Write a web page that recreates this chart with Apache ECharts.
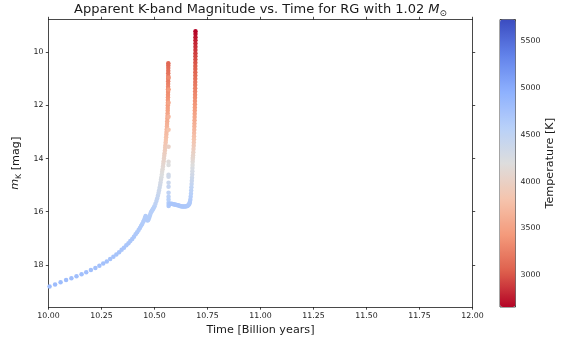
<!DOCTYPE html>
<html><head><meta charset="utf-8">
<script src="https://cdn.jsdelivr.net/npm/echarts@6/dist/echarts.min.js"></script>
<style>html,body{margin:0;padding:0;background:#fff}#c{width:562px;height:341px}</style>
</head><body><div id="c"></div>
<script>
// Red-giant track: time (Gyr), apparent K magnitude, effective temperature (K)
const rgbTimes = [10.005,10.031,10.057,10.083,10.108,10.132,10.156,10.178,10.200,10.221,10.240,10.258,10.275,10.291,10.306,10.320,10.333,10.345,10.356,10.367,10.377,10.386,10.395,10.403,10.411,10.418,10.425,10.431,10.437,10.442,10.447,10.451,10.455,10.458,
 10.461,10.464,10.467,10.470,10.473,10.476,10.479,10.482,10.485,10.488,10.491,10.494,10.497,10.500,
 10.5045,10.509,10.5125,10.516,10.519,10.5215,10.524,10.5265,10.5285,10.5305,10.5325,10.5345,10.536,10.538,10.540,10.5415,10.543,10.5447,10.546,10.5475,10.549,10.5502,10.5515,10.5527,10.5538,10.5548,10.5558,10.5567,10.5576,10.5585,10.5592,10.5600,10.5607,10.5614,10.5620,10.5623,10.5626,10.5628,10.5630,10.5632,10.5635,10.5637,10.5639,10.5640,10.5642,10.5643,10.5645,10.5646,10.5647,10.5648,10.5649,10.5650,10.5650,10.5651];
const rgbMags = [18.805,18.73,18.65,18.57,18.50,18.42,18.35,18.27,18.19,18.11,18.03,17.95,17.87,17.78,17.69,17.61,17.52,17.43,17.35,17.26,17.18,17.10,17.02,16.94,16.85,16.77,16.69,16.61,16.53,16.46,16.38,16.31,16.23,16.16,
 16.21,16.27,16.33,16.31,16.26,16.20,16.12,16.05,16.00,15.96,15.93,15.89,15.84,15.79,
 15.70,15.60,15.50,15.40,15.30,15.20,15.10,15.00,14.90,14.80,14.70,14.60,14.50,14.40,14.30,14.20,14.10,14.00,13.90,13.80,13.70,13.60,13.50,13.40,13.30,13.20,13.10,13.00,12.90,12.80,12.70,12.60,12.50,12.40,12.30,12.20,12.10,12.00,11.90,11.80,11.70,11.60,11.50,11.40,11.30,11.20,11.10,11.00,10.90,10.80,10.70,10.60,10.50,10.42];
const rgbTemps = [4820,4815,4809,4803,4797,4791,4786,4779,4773,4767,4761,4755,4749,4742,4735,4729,4722,4715,4709,4702,4695,4689,4683,4677,4670,4664,4658,4652,4645,4640,4634,4628,4622,4617,
 4620,4622,4625,4623,4618,4612,4605,4598,4592,4587,4583,4578,4572,4565,
 4516,4493,4470,4442,4414,4386,4358,4330,4300,4270,4240,4210,4180,4150,4120,4090,4060,4030,4000,3970,3940,3910,3880,3850,3820,3790,3760,3730,3701,3672,3643,3614,3585,3559,3533,3507,3481,3455,3432,3409,3386,3363,3340,3318,3296,3274,3252,3230,3208,3186,3164,3142,3120,3100];

const flashTimes = [10.5662,10.5662,10.5662,10.5662,10.5662,10.5662,10.5662,10.5662,10.5662,10.5662,10.5662,10.5662,10.5662,10.5662,10.5662,10.5662];
const flashMags = [10.96,11.41,11.90,12.43,12.92,13.56,14.12,14.24,14.61,14.69,14.91,15.06,15.29,15.44,15.55,15.67];
const flashTemps = [3320,3420,3530,3670,3810,4000,4170,4210,4320,4340,4400,4450,4510,4550,4580,4610];

const hbTimes = [10.5665,10.568,10.571,10.575,10.580,10.585,10.590,10.595,10.600,10.605,10.610,10.615,10.620,10.625,10.630,10.635,10.640,10.645,10.650,10.655,10.659,10.662,10.665,10.667,10.669];
const hbMags = [15.78,15.74,15.71,15.70,15.70,15.71,15.72,15.73,15.74,15.75,15.76,15.77,15.78,15.79,15.80,15.80,15.80,15.80,15.79,15.78,15.76,15.73,15.69,15.63,15.55];
const hbTemps = [4660,4680,4690,4700,4705,4705,4705,4705,4700,4700,4700,4695,4695,4690,4690,4690,4685,4685,4680,4680,4675,4670,4665,4655,4640];

const agbTimes = [10.6705,10.672,10.673,10.674,10.675,10.676,10.677,10.678,10.6785,10.679,10.6795,10.680,10.6805,10.681,10.682,10.683,10.684,10.685,10.6855,10.686,10.6865,10.687,10.6875,10.688,10.6884,10.6888,10.6892,10.6896,10.690,10.6903,10.6906,10.6909,10.6912,10.6914,10.6916,10.6918,10.6920,10.6921,10.6922,10.6923,10.6924,10.6925,10.6926,10.6927,10.6928,10.6929,10.6930,10.6930,10.6931,10.6931,10.6932,10.6932,10.6933,10.6933];
const agbMags = [15.44,15.32,15.20,15.08,14.96,14.84,14.72,14.60,14.48,14.36,14.24,14.12,14.02,13.96,13.88,13.76,13.64,13.52,13.40,13.28,13.16,13.04,12.92,12.80,12.68,12.56,12.44,12.32,12.20,12.08,11.96,11.84,11.72,11.60,11.48,11.36,11.24,11.12,11.00,10.88,10.76,10.64,10.52,10.40,10.28,10.16,10.04,9.92,9.80,9.68,9.56,9.44,9.32,9.22];
const agbTemps = [4620,4582,4544,4506,4466,4422,4379,4336,4292,4244,4196,4148,4108,4084,4052,4004,3956,3908,3864,3821,3778,3734,3694,3656,3618,3579,3543,3510,3476,3442,3410,3378,3347,3316,3285,3254,3222,3191,3160,3129,3098,3066,3035,3004,2973,2942,2910,2878,2844,2810,2777,2737,2697,2665];

const xTicks = [10, 10.25, 10.5, 10.75, 11, 11.25, 11.5, 11.75, 12];
const yTicks = [10, 12, 14, 16, 18];
const cbTicks = [3000, 3500, 4000, 4500, 5000, 5500];
const tempMin = 2660, tempMax = 5732;
// coolwarm reversed (low temperature = red)
const cmap = ['#b40426','#de604d','#f49a7b','#f5c4ad','#dddddd','#b8d0f9','#8db0fe','#6282ea','#3b4cc0'];

const times = rgbTimes.concat(flashTimes, hbTimes, agbTimes);
const mags = rgbMags.concat(flashMags, hbMags, agbMags);
const temps = rgbTemps.concat(flashTemps, hbTemps, agbTemps);
const pts = times.map((t, i) => [t, mags[i], temps[i]]);

const FONT = 'DejaVu Sans';
const TXT = '#1a1a1a';
const lineS = {color: '#1a1a1a', width: 0.8};

const chart = echarts.init(document.getElementById('c'), null, {renderer: 'canvas'});
chart.setOption({
  animation: false,
  backgroundColor: '#fff',
  title: {
    text: '{a|Apparent K-band Magnitude vs. Time for RG with 1.02 }{m|M}{s|⊙}',
    left: 260.5, top: 3, padding: 0, textAlign: 'center',
    textStyle: {
      fontWeight: 'normal',
      rich: {
        a: {fontFamily: FONT, fontSize: 13, fontWeight: 'normal', color: TXT, verticalAlign: 'top'},
        m: {fontFamily: FONT, fontSize: 13, fontWeight: 'normal', fontStyle: 'italic', color: TXT, verticalAlign: 'top'},
        s: {fontFamily: FONT, fontSize: 8.8, fontWeight: 'normal', color: TXT, verticalAlign: 'top', padding: [6, 0, 0, 0]}
      }
    }
  },
  grid: [
    {left: 48.5, top: 19.5, width: 424, height: 287.5},
    {left: 500, top: 19.5, width: 15.5, height: 287.5, show: true, borderColor: '#1a1a1a', borderWidth: 0.8, backgroundColor: 'transparent'}
  ],
  xAxis: [
    {gridIndex: 0, type: 'value', min: 10, max: 12, interval: 0.25, position: 'bottom',
     axisLine: {show: true, lineStyle: lineS}, axisTick: {show: true, length: 2.7, lineStyle: lineS},
     axisLabel: {fontFamily: FONT, fontSize: 7.8, color: TXT, margin: 5, formatter: v => v.toFixed(2)},
     splitLine: {show: false},
     name: 'Time [Billion years]', nameLocation: 'middle', nameGap: 17,
     nameTextStyle: {fontFamily: FONT, fontSize: 11.2, color: TXT}},
    {gridIndex: 0, type: 'value', min: 10, max: 12, interval: 0.25, position: 'top',
     axisLine: {show: true, lineStyle: lineS}, axisTick: {show: true, length: 2.7, lineStyle: lineS},
     axisLabel: {show: false}, splitLine: {show: false}},
    {gridIndex: 1, type: 'value', min: 0, max: 1, show: false}
  ],
  yAxis: [
    {gridIndex: 0, type: 'value', inverse: true, min: 8.776, max: 19.58, position: 'left',
     axisLine: {show: true, lineStyle: lineS},
     axisTick: {show: true, length: 2.7, lineStyle: lineS, customValues: yTicks},
     axisLabel: {fontFamily: FONT, fontSize: 7.8, color: TXT, margin: 5, customValues: yTicks},
     splitLine: {show: false},
     name: '{i|m}{k|K} [mag]', nameLocation: 'middle', nameGap: 21, nameRotate: 90,
     nameTextStyle: {rich: {
       i: {fontFamily: FONT, fontSize: 11.2, fontStyle: 'italic', color: TXT, verticalAlign: 'top'},
       k: {fontFamily: FONT, fontSize: 7.8, color: TXT, verticalAlign: 'top', padding: [5, 0, 0, 0]}
     }, fontFamily: FONT, fontSize: 11.2, color: TXT, verticalAlign: 'top'}},
    {gridIndex: 0, type: 'value', inverse: true, min: 8.776, max: 19.58, position: 'right',
     axisLine: {show: true, lineStyle: lineS},
     axisTick: {show: true, length: 2.7, lineStyle: lineS, customValues: yTicks},
     axisLabel: {show: false}, splitLine: {show: false}},
    {gridIndex: 1, type: 'value', min: tempMin, max: tempMax, position: 'right',
     axisLine: {show: false},
     axisTick: {show: true, length: 2.7, lineStyle: lineS, customValues: cbTicks},
     axisLabel: {fontFamily: FONT, fontSize: 7.8, color: TXT, margin: 5, customValues: cbTicks, formatter: v => String(v)},
     splitLine: {show: false},
     name: 'Temperature [K]', nameLocation: 'middle', nameGap: 27, nameRotate: 90,
     nameTextStyle: {fontFamily: FONT, fontSize: 11.2, color: TXT}}
  ],
  visualMap: {
    type: 'continuous', min: tempMin, max: tempMax, dimension: 2, seriesIndex: 0,
    inRange: {color: cmap}, calculable: false, hoverLink: false,
    left: 500, top: 19.5, itemWidth: 15.5, itemHeight: 287.5, padding: 0, text: null,
    orient: 'vertical', align: 'left'
  },
  series: [{
    type: 'scatter', xAxisIndex: 0, yAxisIndex: 0, data: pts,
    symbol: 'circle', symbolSize: 4.5, itemStyle: {opacity: 1}, silent: true
  }]
});
</script></body></html>
